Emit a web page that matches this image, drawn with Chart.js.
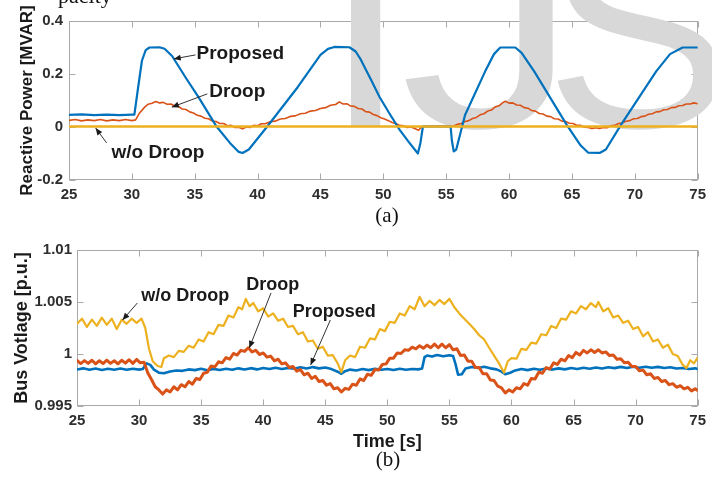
<!DOCTYPE html>
<html><head><meta charset="utf-8">
<script src="https://cdn.jsdelivr.net/npm/chart.js@4"></script>
<style>
html,body{margin:0;padding:0;background:#fff;width:712px;height:479px;overflow:hidden}
canvas{position:absolute;left:0;top:0}
</style></head><body>
<canvas id="c1" width="712" height="479"></canvas>
<canvas id="c2" width="712" height="479"></canvas>
<script>
// ---------- DATA ----------
const timeRange = [25, 75];
const timeStep = 5;
const qRange = [-0.2, 0.4];
const qStep = 0.2;
const vRange = [0.995, 1.01];
const vStep = 0.005;
const seriesNames = ['Proposed', 'Droop', 'w/o Droop'];

// (a) Reactive power [MVAR] : [time s, value]
const qProposed = [[25,0.046],[26,0.048],[27,0.045],[28,0.047],[29,0.045],[30,0.047],[30.2,0.047],[30.5,0.15],[30.8,0.25],[31.1,0.29],[31.4,0.300],[32.2,0.301],[32.6,0.295],[33.2,0.268],[34.3,0.185],[35.3,0.113],[36.7,0.004],[37.8,-0.06],[38.5,-0.094],[38.8,-0.098],[39.3,-0.085],[40.8,0.004],[43.2,0.151],[45.0,0.272],[45.6,0.295],[46.1,0.302],[47.3,0.301],[47.8,0.285],[48.2,0.255],[49.0,0.18],[49.7,0.113],[50.5,0.05],[51.3,-0.011],[52.0,-0.055],[52.75,-0.100],[52.95,-0.06],[53.15,0.002],[55.35,0.002],[55.45,-0.05],[55.6,-0.092],[55.8,-0.085],[56.5,0.045],[58.1,0.21],[58.8,0.275],[59.3,0.300],[60.5,0.300],[61.0,0.28],[62.0,0.21],[64.6,0.007],[65.7,-0.07],[66.3,-0.097],[67.2,-0.098],[67.7,-0.085],[68.9,0.008],[71.7,0.21],[72.8,0.275],[73.8,0.300],[75,0.300]];
const qDroop = [[25,0.025],[25.5,0.028],[26,0.023],[26.5,0.027],[27,0.024],[27.5,0.028],[28,0.023],[28.5,0.027],[29,0.024],[29.5,0.028],[30,0.024],[30.3,0.027],[30.6,0.052],[31.0,0.074],[31.3,0.086],[31.6,0.09],[31.9,0.096],[32.2,0.091],[32.5,0.093],[32.8,0.086],[33.1,0.087],[33.4,0.079],[33.7,0.078],[34.0,0.068],[34.3,0.066],[34.6,0.057],[34.9,0.053],[35.2,0.044],[35.5,0.041],[35.8,0.033],[36.1,0.031],[36.4,0.022],[36.7,0.021],[37.0,0.013],[37.3,0.013],[37.6,0.005],[37.9,0.006],[38.2,-0.002],[38.5,-0.001],[38.8,-0.007],[39.1,0.0],[39.4,-0.002],[39.7,0.006],[40.0,0.005],[40.3,0.012],[40.6,0.012],[41.0,0.02],[41.4,0.022],[41.8,0.03],[42.2,0.032],[42.6,0.04],[43.0,0.042],[43.4,0.05],[43.8,0.052],[44.2,0.06],[44.6,0.062],[45.0,0.07],[45.4,0.073],[45.8,0.082],[46.2,0.085],[46.5,0.095],[46.8,0.087],[47.1,0.088],[47.4,0.079],[47.7,0.078],[48.0,0.07],[48.3,0.068],[48.6,0.058],[48.9,0.056],[49.2,0.047],[49.5,0.043],[49.8,0.035],[50.1,0.03],[50.4,0.024],[50.7,0.017],[51.0,0.013],[51.3,0.006],[51.6,0.005],[51.9,-0.002],[52.2,0.0],[52.5,-0.006],[52.8,-0.012],[53.0,-0.002],[53.3,0.002],[55.3,0.002],[55.6,0.004],[55.9,0.01],[56.2,0.013],[56.5,0.021],[56.8,0.024],[57.1,0.032],[57.4,0.036],[57.7,0.046],[58.0,0.05],[58.3,0.06],[58.6,0.064],[58.9,0.076],[59.2,0.08],[59.5,0.092],[59.7,0.097],[60.0,0.09],[60.3,0.091],[60.6,0.083],[60.9,0.082],[61.2,0.073],[61.5,0.071],[61.8,0.062],[62.1,0.06],[62.4,0.051],[62.7,0.049],[63.0,0.041],[63.3,0.039],[63.6,0.031],[63.9,0.03],[64.2,0.022],[64.5,0.021],[64.8,0.014],[65.1,0.013],[65.4,0.006],[65.7,0.006],[66.0,-0.001],[66.3,-0.002],[66.6,-0.006],[66.9,-0.003],[67.2,-0.006],[67.5,-0.002],[67.8,-0.003],[68.1,0.005],[68.4,0.006],[68.7,0.013],[69.0,0.015],[69.3,0.022],[69.6,0.024],[69.9,0.031],[70.2,0.032],[70.5,0.039],[70.8,0.041],[71.1,0.048],[71.4,0.05],[71.7,0.057],[72.0,0.058],[72.3,0.065],[72.6,0.066],[72.9,0.073],[73.2,0.074],[73.5,0.08],[73.8,0.081],[74.1,0.087],[74.4,0.087],[74.7,0.091],[75,0.088]];
const qNoDroop = [[25,0.002],[30,0.002],[35,0.002],[40,0.002],[45,0.002],[50,0.002],[55,0.002],[60,0.002],[65,0.002],[70,0.002],[75,0.002]];

// (b) Bus voltage [p.u.] : [time s, value]
const vProposed = [[25,0.9985],[25.5,0.99862],[26,0.99848],[26.5,0.9986],[27,0.99847],[27.5,0.99858],[28,0.99849],[28.5,0.9986],[29,0.99848],[29.5,0.99858],[30,0.9985],[30.3,0.99855],[30.6,0.9991],[30.9,0.99895],[31.2,0.9985],[31.6,0.9982],[32.0,0.99815],[32.5,0.99832],[33,0.99842],[33.5,0.99838],[34,0.99852],[34.5,0.99845],[35,0.99858],[35.5,0.99843],[36,0.99857],[36.5,0.99846],[37,0.99858],[37.5,0.99848],[38,0.99862],[38.5,0.9985],[39,0.99864],[39.5,0.99852],[40,0.99866],[40.5,0.99856],[41,0.99868],[41.5,0.99856],[42,0.99866],[42.5,0.99858],[43,0.99872],[43.5,0.9986],[44,0.99874],[44.5,0.99862],[45,0.9987],[45.5,0.99855],[46,0.9983],[46.3,0.9981],[46.6,0.99835],[47,0.9985],[47.5,0.99842],[48,0.99855],[48.5,0.99845],[49,0.99858],[49.5,0.99848],[50,0.99856],[50.5,0.99846],[51,0.99858],[51.5,0.99848],[52,0.99856],[52.5,0.99852],[52.8,0.9986],[53.0,0.9997],[53.2,0.99985],[53.6,0.99975],[54,0.9999],[54.5,0.99978],[55,0.99988],[55.3,0.9998],[55.5,0.9990],[55.7,0.9980],[56.0,0.99805],[56.3,0.9986],[56.8,0.99875],[57.3,0.99865],[57.8,0.99878],[58.3,0.99862],[58.8,0.99852],[59.2,0.9983],[59.5,0.99805],[59.9,0.9982],[60.3,0.99842],[60.8,0.99855],[61.3,0.99845],[61.8,0.99858],[62.3,0.99848],[62.8,0.9986],[63.3,0.9985],[63.8,0.99862],[64.3,0.99852],[64.8,0.99865],[65.3,0.99856],[65.8,0.99868],[66.3,0.99858],[66.8,0.9987],[67.3,0.9986],[67.8,0.99872],[68.3,0.99864],[68.8,0.99876],[69.3,0.99866],[69.8,0.99878],[70.3,0.99868],[70.8,0.99878],[71.3,0.99868],[71.8,0.99876],[72.3,0.99866],[72.8,0.99872],[73.3,0.9986],[73.8,0.99866],[74.3,0.99855],[74.8,0.99862],[75,0.99855]];
const vDroop = [[25,0.99938],[25.3,0.99908],[25.6,0.99936],[25.9,0.9991],[26.2,0.9994],[26.5,0.99905],[26.8,0.99935],[27.1,0.99908],[27.4,0.9994],[27.7,0.9991],[28.0,0.99935],[28.3,0.99905],[28.6,0.9994],[28.9,0.99912],[29.2,0.99945],[29.5,0.9991],[29.8,0.99948],[30.1,0.99915],[30.4,0.9992],[30.7,0.9982],[31.0,0.99755],[31.3,0.99685],[31.6,0.99655],[31.9,0.99615],[32.2,0.99655],[32.5,0.99635],[32.8,0.99685],[33.1,0.99655],[33.4,0.99705],[33.7,0.99685],[34.0,0.99735],[34.3,0.9971],[34.6,0.99765],[34.9,0.99755],[35.2,0.99815],[35.5,0.99825],[35.8,0.99885],[36.1,0.99875],[36.4,0.99925],[36.7,0.99915],[37.0,0.99965],[37.3,0.9995],[37.6,1.00005],[37.9,0.9999],[38.2,1.00035],[38.5,1.00025],[38.8,1.0006],[39.1,1.0002],[39.4,1.00035],[39.7,0.99995],[40.0,1.0001],[40.3,0.9997],[40.6,0.9998],[40.9,0.99935],[41.2,0.9995],[41.5,0.99905],[41.8,0.99915],[42.1,0.9987],[42.4,0.9988],[42.7,0.99835],[43.0,0.9985],[43.3,0.998],[43.6,0.99815],[43.9,0.99765],[44.2,0.99785],[44.5,0.99735],[44.8,0.99745],[45.1,0.997],[45.4,0.99715],[45.7,0.99665],[46.0,0.99675],[46.3,0.99635],[46.6,0.9967],[46.9,0.9966],[47.2,0.9971],[47.5,0.997],[47.8,0.9976],[48.1,0.99745],[48.4,0.99805],[48.7,0.99795],[49.0,0.9985],[49.3,0.99845],[49.6,0.999],[49.9,0.99905],[50.2,0.9996],[50.5,0.9996],[50.8,1.0001],[51.1,1.00005],[51.4,1.0004],[51.7,1.00035],[52.0,1.00065],[52.3,1.0005],[52.6,1.0008],[52.9,1.00055],[53.2,1.00085],[53.5,1.0006],[53.8,1.00095],[54.1,1.0006],[54.4,1.00095],[54.7,1.0006],[55.0,1.0009],[55.3,1.0004],[55.6,1.0005],[55.9,0.99985],[56.2,0.9999],[56.5,0.9993],[56.8,0.9993],[57.1,0.9987],[57.4,0.9987],[57.7,0.9981],[58.0,0.9981],[58.3,0.9975],[58.6,0.99745],[58.9,0.9969],[59.2,0.99675],[59.5,0.99625],[59.8,0.99655],[60.1,0.99635],[60.4,0.99675],[60.7,0.99665],[61.0,0.99715],[61.3,0.997],[61.6,0.99765],[61.9,0.9976],[62.2,0.99825],[62.5,0.99815],[62.8,0.9987],[63.1,0.99855],[63.4,0.99915],[63.7,0.999],[64.0,0.9995],[64.3,0.99935],[64.6,0.99985],[64.9,0.99965],[65.2,1.00015],[65.5,0.9999],[65.8,1.00035],[66.1,1.0001],[66.4,1.0004],[66.7,1.00015],[67.0,1.0004],[67.3,1.0001],[67.6,1.0002],[67.9,0.99985],[68.2,0.9999],[68.5,0.9995],[68.8,0.99955],[69.1,0.99915],[69.4,0.9992],[69.7,0.9988],[70.0,0.9988],[70.3,0.9984],[70.6,0.99845],[70.9,0.998],[71.2,0.9981],[71.5,0.99765],[71.8,0.99775],[72.1,0.99735],[72.4,0.99745],[72.7,0.99705],[73.0,0.99715],[73.3,0.9968],[73.6,0.99695],[73.9,0.99665],[74.2,0.9968],[74.5,0.99645],[74.8,0.99665],[75,0.9965]];
const vNoDroop = [[25,1.0029],[25.4,1.0034],[25.8,1.0026],[26.2,1.0033],[26.6,1.0027],[27.0,1.0035],[27.4,1.0028],[27.8,1.0034],[28.2,1.0024],[28.6,1.0033],[29.0,1.0029],[29.4,1.0034],[29.8,1.003],[30.2,1.0034],[30.5,1.0025],[30.8,1.0005],[31.1,0.9993],[31.5,0.99885],[31.8,0.99875],[32.0,0.9996],[32.4,0.99985],[32.8,0.9997],[33.2,1.0003],[33.6,1.0002],[34.0,1.0008],[34.4,1.0006],[34.8,1.0014],[35.2,1.0012],[35.6,1.0021],[36.0,1.0019],[36.4,1.0028],[36.8,1.0027],[37.2,1.0037],[37.6,1.0035],[38.0,1.0045],[38.3,1.0043],[38.6,1.0053],[38.9,1.0046],[39.2,1.0049],[39.6,1.0041],[40.0,1.0044],[40.4,1.0036],[40.8,1.0039],[41.2,1.0032],[41.6,1.0034],[42.0,1.0026],[42.4,1.0027],[42.8,1.0019],[43.2,1.0021],[43.6,1.0012],[44.0,1.0013],[44.4,1.0005],[44.8,1.0007],[45.2,0.99985],[45.6,0.9999],[46.0,0.9991],[46.3,0.99825],[46.6,0.9994],[47.0,0.99985],[47.4,0.9997],[47.8,1.0007],[48.2,1.0006],[48.6,1.0015],[49.0,1.0014],[49.4,1.0024],[49.8,1.0022],[50.2,1.0031],[50.6,1.0030],[51.0,1.0039],[51.4,1.0037],[51.8,1.0046],[52.2,1.0043],[52.6,1.0055],[53.0,1.0046],[53.4,1.0051],[53.8,1.0047],[54.2,1.0052],[54.6,1.0048],[55.0,1.0053],[55.4,1.0045],[55.8,1.0039],[56.2,1.0034],[56.6,1.0029],[57.0,1.0024],[57.4,1.0018],[57.8,1.0014],[58.2,1.0006],[58.6,0.99985],[59.0,0.9991],[59.4,0.9982],[59.7,0.9993],[60.0,0.9996],[60.4,0.99955],[60.8,1.0005],[61.2,1.0004],[61.6,1.0011],[62.0,1.001],[62.4,1.0019],[62.8,1.0018],[63.2,1.0027],[63.6,1.0025],[64.0,1.0034],[64.4,1.0033],[64.8,1.0041],[65.2,1.0039],[65.6,1.0046],[66.0,1.0043],[66.4,1.0049],[66.8,1.0045],[67.0,1.005],[67.4,1.0041],[67.8,1.0044],[68.2,1.0035],[68.6,1.0037],[69.0,1.003],[69.4,1.0032],[69.8,1.0024],[70.2,1.0026],[70.6,1.0017],[71.0,1.0021],[71.4,1.0012],[71.8,1.0014],[72.2,1.0006],[72.6,1.0009],[73.0,1.0],[73.4,0.9998],[73.8,0.99895],[74.1,0.99865],[74.4,0.9994],[74.7,0.9991],[75.0,0.99965]];

// annotation anchors in data units: [label, textX, textY(baseline), arrowFromX, arrowFromY, arrowToX, arrowToY]
const notesA = [['Proposed',35.14,0.257,35.06,0.272,33.33,0.257],['Droop',36.16,0.113,36.0,0.125,33.18,0.075],['w/o Droop',28.38,-0.117,27.99,-0.06,27.12,-0.004]];
const notesB = [['w/o Droop',30.18,1.0051,29.86,1.0049,28.67,1.00327],['Droop',38.64,1.00615,40.63,1.00587,38.88,1.00058],['Proposed',42.38,1.00356,45.41,1.00327,43.82,0.99894]];

// ---------- RENDER ----------
const C_BLUE='#0072BD', C_ORANGE='#D95319', C_YELLOW='#EDB120';
const SANS='"Liberation Sans", Arial, sans-serif';
const SERIF='"Liberation Serif", "Times New Roman", serif';
Chart.defaults.font.family = SANS;
const pts = a => a.map(p => ({x:p[0], y:p[1]}));
const fmt = v => String(+(+v).toFixed(3));

function drawArrow(ctx,x1,y1,x2,y2){
  ctx.beginPath(); ctx.moveTo(x1,y1); ctx.lineTo(x2,y2); ctx.stroke();
  const ang=Math.atan2(y2-y1,x2-x1), L=7, W=3;
  ctx.beginPath();
  ctx.moveTo(x2,y2);
  ctx.lineTo(x2-L*Math.cos(ang)+W*Math.sin(ang), y2-L*Math.sin(ang)-W*Math.cos(ang));
  ctx.lineTo(x2-L*Math.cos(ang)-W*Math.sin(ang), y2-L*Math.sin(ang)+W*Math.cos(ang));
  ctx.closePath(); ctx.fill();
}

function makePlugin(cfg){
  return {
    id:'frame'+cfg.name,
    beforeDatasetsDraw(chart){
      const {ctx, chartArea:a, scales:{x,y}} = chart;
      ctx.save();
      ctx.strokeStyle='#a9a9a9'; ctx.lineWidth=1;
      const L=Math.round(a.left)+0.5, T=Math.round(a.top)+0.5, R=Math.round(a.right)-0.5, B=Math.round(a.bottom)-0.5;
      ctx.strokeRect(L,T,R-L,B-T);
      ctx.beginPath();
      x.ticks.forEach(t=>{const px=Math.round(x.getPixelForValue(t.value))+0.5; ctx.moveTo(px,B); ctx.lineTo(px,B-6); ctx.moveTo(px,T); ctx.lineTo(px,T+6);});
      y.ticks.forEach(t=>{const py=Math.round(y.getPixelForValue(t.value))+0.5; ctx.moveTo(L,py); ctx.lineTo(L+6,py); ctx.moveTo(R,py); ctx.lineTo(R-6,py);});
      ctx.stroke();
      if(cfg.watermark){
        ctx.fillStyle='#d8d8d8';
        ctx.font='280px '+SANS;
        ctx.textBaseline='alphabetic';
        ctx.save(); ctx.translate(322,127); ctx.scale(1.12,1); ctx.fillText('I',0,0); ctx.restore();
        ctx.save(); ctx.translate(400,127); ctx.scale(1.28,1); ctx.fillText('J',0,0); ctx.restore();
        ctx.fillText('S',545,127);
      }
      ctx.restore();
    },
    afterDraw(chart){
      const {ctx, scales:{x,y}} = chart;
      ctx.save();
      ctx.fillStyle='#1a1a1a'; ctx.strokeStyle='#333'; ctx.lineWidth=1;
      ctx.font='bold '+cfg.noteSize+'px '+SANS;
      ctx.textBaseline='alphabetic'; ctx.textAlign='left';
      cfg.notes.forEach(n=>{
        ctx.fillText(n[0], x.getPixelForValue(n[1]), y.getPixelForValue(n[2]));
        drawArrow(ctx, x.getPixelForValue(n[3]), y.getPixelForValue(n[4]), x.getPixelForValue(n[5]), y.getPixelForValue(n[6]));
      });
      ctx.fillStyle='#111';
      ctx.font='21px '+SERIF; ctx.textAlign='center'; ctx.textBaseline='middle';
      ctx.fillText(cfg.caption, cfg.capX, cfg.capY);
      if(cfg.topText){
        ctx.font='22px '+SERIF; ctx.textAlign='left'; ctx.textBaseline='alphabetic';
        ctx.fillText(cfg.topText, 58, 3);
      }
      ctx.restore();
    }
  };
}

function makeChart(id, cfg){
  return new Chart(document.getElementById(id), {
    type:'line',
    data:{datasets: cfg.datasets},
    options:{
      responsive:false, animation:false, devicePixelRatio:1, events:[],
      layout:{padding:cfg.padding},
      elements:{point:{radius:0}, line:{tension:0, borderJoinStyle:'round', borderCapStyle:'round'}},
      plugins:{legend:{display:false}, tooltip:{enabled:false}},
      scales:{
        x:{type:'linear', min:timeRange[0], max:timeRange[1],
           ticks:{stepSize:timeStep, padding:cfg.xPad, autoSkip:false, maxRotation:0, color:'#2e2e2e', font:{size:15, weight:'bold'}},
           grid:{display:false, drawTicks:false}, border:{display:false},
           title: cfg.xTitle ? {display:true, text:cfg.xTitle, color:'#1a1a1a', font:{size:18, weight:'bold', lineHeight:1}, padding:{top:0,bottom:0}} : {display:false},
           afterFit(s){ s.height = cfg.xH; }},
        y:{type:'linear', min:cfg.yRange[0], max:cfg.yRange[1],
           ticks:{stepSize:cfg.yStep, padding:cfg.yPad, color:'#2e2e2e', font:{size:15, weight:'bold'}, callback:v=>fmt(v)},
           grid:{display:false, drawTicks:false}, border:{display:false},
           title:{display:true, text:cfg.yTitle, color:'#1a1a1a', font:{size:cfg.yTitleSize, weight:'bold'}, padding:{top:cfg.yTitlePad, bottom:0}},
           afterFit(s){ s.width = cfg.yW; }}
      }
    },
    plugins:[makePlugin(cfg)]
  });
}

makeChart('c1', {
  name:'A',
  datasets:[
    {label:seriesNames[2], data:pts(qNoDroop), borderColor:C_YELLOW, borderWidth:2.5},
    {label:seriesNames[0], data:pts(qProposed), borderColor:C_BLUE, borderWidth:2.2},
    {label:seriesNames[1], data:pts(qDroop), borderColor:C_ORANGE, borderWidth:1.6}
  ],
  padding:{left:0, top:21, right:7, bottom:269},
  xH:30, xPad:6, yW:69, yPad:6,
  yRange:qRange, yStep:qStep,
  yTitle:'Reactive Power [MVAR]', yTitleSize:17, yTitlePad:17,
  notes:notesA, noteSize:19,
  caption:'(a)', capX:387, capY:216,
  watermark:true, topText:'pacity'
});

makeChart('c2', {
  name:'B',
  datasets:[
    {label:seriesNames[2], data:pts(vNoDroop), borderColor:C_YELLOW, borderWidth:2.2},
    {label:seriesNames[1], data:pts(vDroop), borderColor:C_ORANGE, borderWidth:3},
    {label:seriesNames[0], data:pts(vProposed), borderColor:C_BLUE, borderWidth:2.6}
  ],
  padding:{left:0, top:250, right:8, bottom:28},
  xH:45, xPad:6, yW:77, yPad:5,
  xTitle:'Time [s]',
  yRange:vRange, yStep:vStep,
  yTitle:'Bus Votlage [p.u.]', yTitleSize:18, yTitlePad:11,
  notes:notesB, noteSize:18,
  caption:'(b)', capX:388, capY:460,
  watermark:false
});
</script>
</body></html>
